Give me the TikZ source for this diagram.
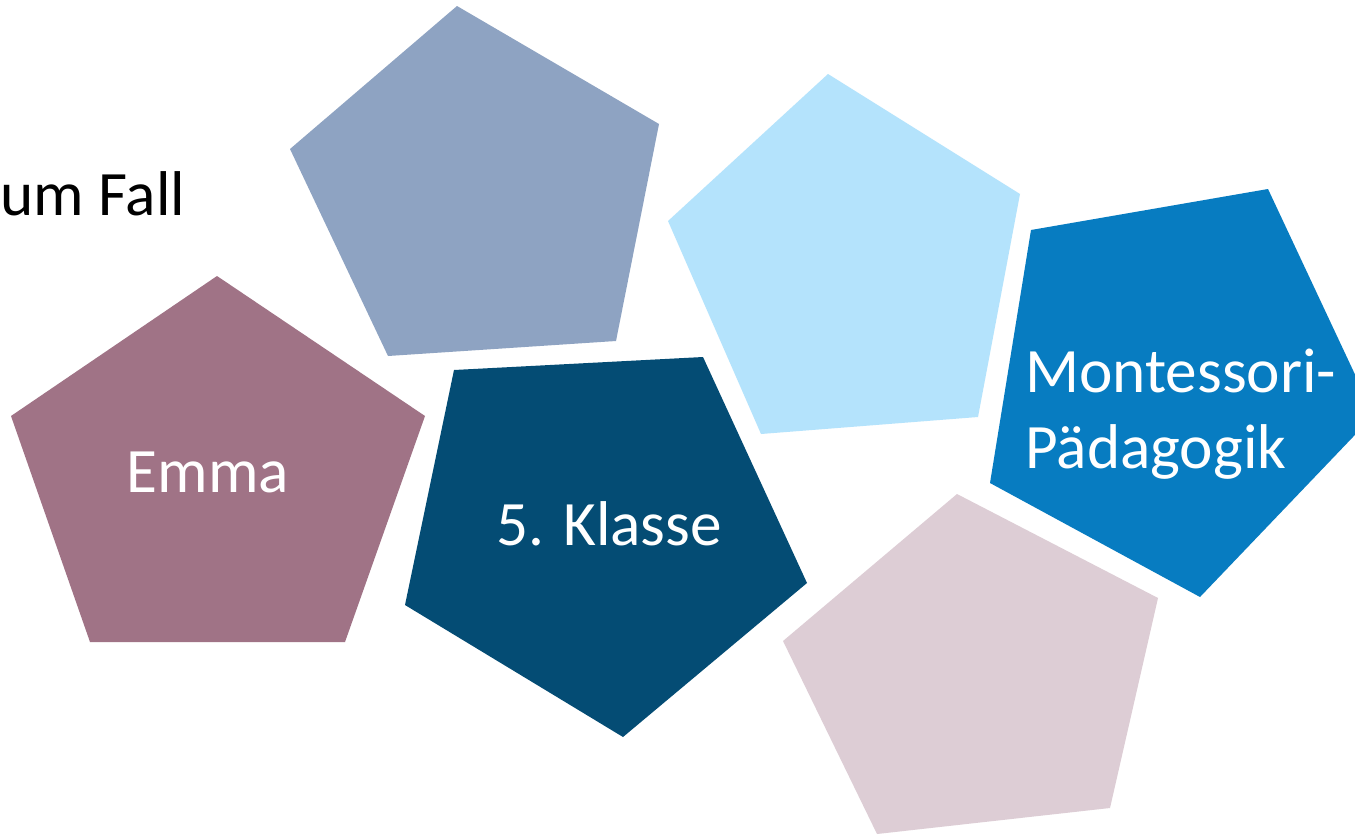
\documentclass[tikz,border=0pt]{standalone}
\usepackage{fontspec}
\setmainfont{Carlito}
\usetikzlibrary{positioning}

\definecolor{emmaRose}{HTML}{A07386}
\definecolor{greyBlue}{HTML}{8EA3C2}
\definecolor{deepBlue}{HTML}{044C74}
\definecolor{skyBlue}{HTML}{B4E3FC}
\definecolor{brightBlue}{HTML}{077CC1}
\definecolor{paleRose}{HTML}{DDCDD5}

\tikzset{
    pentlabel/.style={text=white, inner sep=0pt, font=\fontsize{36}{43}\selectfont},
}

\begin{document}
\begin{tikzpicture}[x=0.02cm, y=-0.02cm]
        \clip (0,0) rectangle (1355,835);
        \fill[white] (0,0) rectangle (1355,835);
        % pentagons
        \fill[emmaRose]   (217,276) -- (425,416) -- (345,642) -- (90,642) -- (11,416) -- cycle;
        \fill[greyBlue]   (457,6) -- (659,124) -- (616,341) -- (388,356) -- (290,149) -- cycle;
        \fill[deepBlue]   (454,370) -- (703,357) -- (807,583) -- (623,737) -- (405,605) -- cycle;
        \fill[skyBlue]    (828,74) -- (1020,194) -- (978,417) -- (761,434) -- (668,221) -- cycle;
        \fill[brightBlue] (1031,230) -- (1268,189) -- (1374,415) -- (1200,597) -- (990,483) -- cycle;
        \fill[paleRose]   (957,494) -- (1158,598) -- (1110,808) -- (877,834) -- (783,641) -- cycle;
        % labels
        \node[pentlabel, text=black, anchor=base west] (fall) at (0,215) {um Fall};
        \node[pentlabel, anchor=base] (emma) at (208,492) {Emma};
        \node[pentlabel, anchor=base] (klasse) at (609,545) {5. Klasse};
        \node[pentlabel, anchor=base west, align=left] (montessori) at (1025,468) {Montessori-\\Pädagogik};
    \end{tikzpicture}
\end{document}
